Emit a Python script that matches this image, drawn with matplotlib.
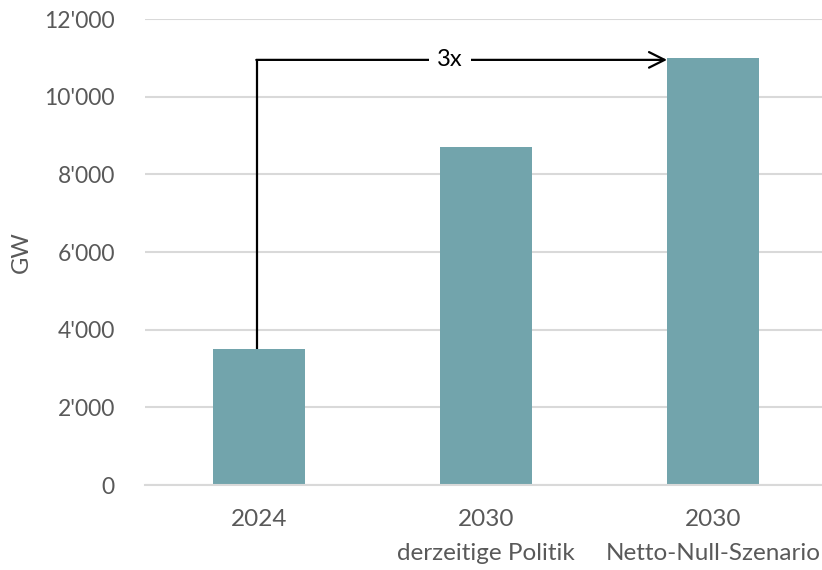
import matplotlib
matplotlib.use("Agg")
import matplotlib.pyplot as plt
from matplotlib.ticker import FuncFormatter

# installed capacity (GW)
labels = ["2024", "2030\nderzeitige Politik", "2030\nNetto-Null-Szenario"]
values = [3500, 8700, 11000]
arrow_level = 10950
arrow_text = "3x"

bar_color = "#72A4AC"
text_color = "#595959"
grid_color = "#D9D9D9"

plt.rcParams["font.family"] = ["Lato", "DejaVu Sans"]

fig = plt.figure(figsize=(8.22, 5.70), dpi=100)
ax = fig.add_axes([0.177, 0.149, 0.8285, 0.8175])

x = list(range(len(values)))
bw = 0.405
ax.bar(x, values, width=bw, color=bar_color, zorder=2)

ax.set_xlim(-0.5, 2.5)
ax.set_ylim(0, 12000)
ax.set_yticks(range(0, 12001, 2000))
ax.yaxis.set_major_formatter(FuncFormatter(lambda v, p: f"{int(v):,}".replace(",", "'")))
ax.set_xticks(x)
ax.set_xticklabels(labels, linespacing=1.8, fontsize=17.5)

ax.grid(axis="y", color=grid_color, linewidth=1.5, zorder=0)
for s in ["top", "right", "left"]:
    ax.spines[s].set_visible(False)
ax.spines["bottom"].set_color(grid_color)
ax.spines["bottom"].set_linewidth(1.5)
ax.tick_params(axis="both", length=0, labelsize=16.5, colors=text_color)
ax.tick_params(axis="x", labelsize=17.5, pad=17)
ax.tick_params(axis="y", pad=22)
ax.set_ylabel("GW", fontsize=17, color=text_color)
ax.yaxis.set_label_coords(-0.167, 0.50)

# growth arrow from first bar to the net-zero bar
ax.plot([x[0] - 0.008, x[0] - 0.008], [values[0], arrow_level], color="black", lw=1.6, zorder=3,
        solid_capstyle="butt")
ax.annotate("", xy=(x[2] - bw / 2, arrow_level), xytext=(x[0] - 0.012, arrow_level),
            arrowprops=dict(arrowstyle="->", color="black", lw=1.6,
                            mutation_scale=28, shrinkA=0, shrinkB=0), zorder=3)
ax.text(0.84, arrow_level, arrow_text, fontsize=17, color="black", ha="center", va="center",
        bbox=dict(facecolor="white", edgecolor="none", pad=6), zorder=4)

fig.savefig("out.png", dpi=100)
